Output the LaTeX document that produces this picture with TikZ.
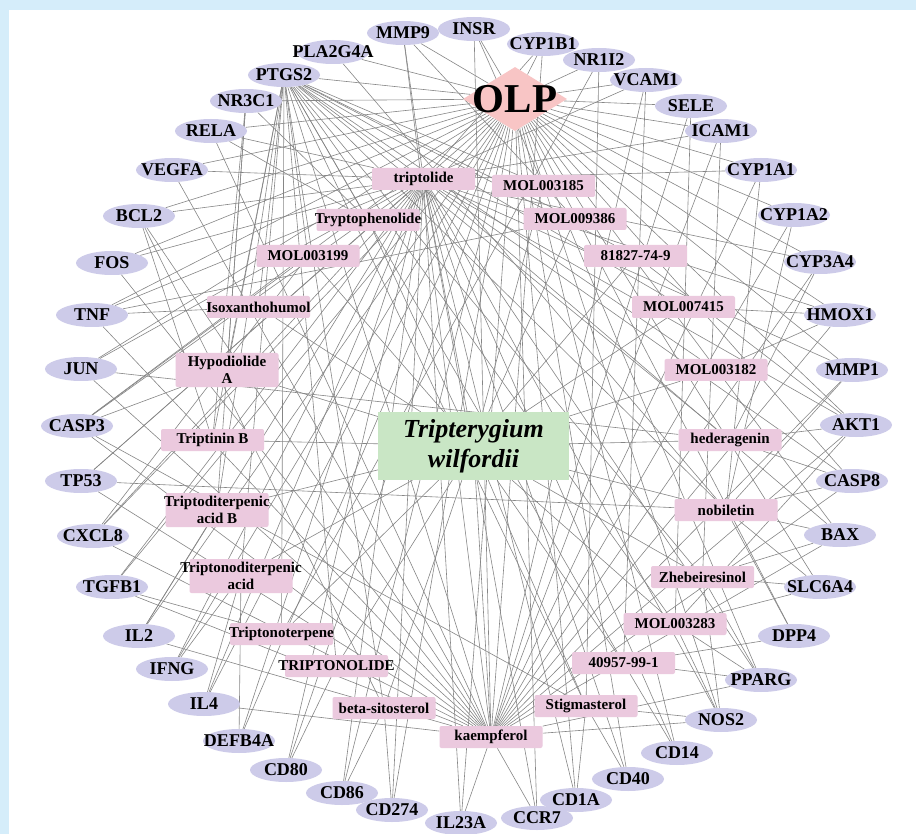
\documentclass[tikz,border=0pt]{standalone}
\usepackage{fontspec}
\setmainfont{Liberation Serif}
\usetikzlibrary{shapes.geometric}
\definecolor{framec}{HTML}{D5EDFA}
\definecolor{tgtc}{HTML}{CDCBE9}
\definecolor{cmpc}{HTML}{EBC9DE}
\definecolor{twc}{HTML}{C9E6C5}
\definecolor{olpc}{HTML}{F8C5C5}
\definecolor{edgec}{HTML}{868686}
\pgfdeclarelayer{back}
\pgfdeclarelayer{edges}
\pgfsetlayers{back,edges,main}
\tikzset{
 tgt/.style={ellipse, fill=tgtc, minimum width=72pt, minimum height=24pt, inner sep=0pt},
 tgtlab/.style={font=\bfseries\fontsize{18}{20}\selectfont, inner sep=0pt},
 cmp/.style={rectangle, rounded corners=2pt, fill=cmpc, minimum width=103pt, inner sep=0pt},
 cmplab/.style={font=\bfseries\fontsize{15}{17}\selectfont, inner sep=0pt, align=center},
 edge/.style={draw=edgec, line width=0.6pt},
}
\newcommand{\tg}[3]{\node[tgt] (#1) at (#2) {}; \node[tgtlab] (#1-l) at (#1) {#3};}
\newcommand{\cp}[4]{\node[cmp, minimum height=#4] (#1) at (#2) {}; \node[cmplab] (#1-l) at (#1) {#3};}
\begin{document}
\begin{tikzpicture}[x=1pt,y=-1pt]
\useasboundingbox (0,0) rectangle (916,834);
\begin{pgfonlayer}{back}
\fill[framec] (0,0) rectangle (916,834);
\fill[white] (9,10) rectangle (916,834);
\end{pgfonlayer}
% hub nodes
\node[diamond, fill=olpc, minimum width=104pt, minimum height=64pt, aspect=1.625, inner sep=0pt] (OLP) at (515,99) {};
\node[font=\bfseries\fontsize{41}{44}\selectfont, inner sep=0pt] (OLP-l) at (OLP) {OLP};
\node[rectangle, fill=twc, minimum width=191pt, minimum height=68pt, inner sep=0pt] (TW) at (473.5,446) {};
\node[font=\bfseries\itshape\fontsize{26}{30}\selectfont, align=center, inner sep=0pt] (TW-l) at (TW) {Tripterygium\\wilfordii};
% targets
\tg{MMP9}{403,33}{MMP9}
\tg{INSR}{474,29}{INSR}
\tg{CYP1B1}{543,44}{CYP1B1}
\tg{NR1I2}{599,60}{NR1I2}
\tg{VCAM1}{646,80}{VCAM1}
\tg{SELE}{691,106}{SELE}
\tg{ICAM1}{721,131}{ICAM1}
\tg{CYP1A1}{761,170}{CYP1A1}
\tg{CYP1A2}{794,215}{CYP1A2}
\tg{CYP3A4}{820,262}{CYP3A4}
\tg{HMOX1}{840,315}{HMOX1}
\tg{MMP1}{852,370}{MMP1}
\tg{AKT1}{856,425}{AKT1}
\tg{CASP8}{852,481}{CASP8}
\tg{BAX}{840,535}{BAX}
\tg{SLC6A4}{820,587}{SLC6A4}
\tg{DPP4}{794,636}{DPP4}
\tg{PPARG}{761,680}{PPARG}
\tg{NOS2}{721,720}{NOS2}
\tg{CD14}{677,753}{CD14}
\tg{CD40}{628,779}{CD40}
\tg{CD1A}{576,800}{CD1A}
\tg{CCR7}{537,818}{CCR7}
\tg{IL23A}{461,823}{IL23A}
\tg{CD274}{392,810}{CD274}
\tg{CD86}{342,793}{CD86}
\tg{CD80}{286,770}{CD80}
\tg{DEFB4A}{239,741}{DEFB4A}
\tg{IL4}{204,704}{IL4}
\tg{IFNG}{172,669}{IFNG}
\tg{IL2}{139,636}{IL2}
\tg{TGFB1}{112,587}{TGFB1}
\tg{CXCL8}{93,536}{CXCL8}
\tg{TP53}{81,481}{TP53}
\tg{CASP3}{77,426}{CASP3}
\tg{JUN}{81,369}{JUN}
\tg{TNF}{92,315}{TNF}
\tg{FOS}{112,263}{FOS}
\tg{BCL2}{139,216}{BCL2}
\tg{VEGFA}{172,170}{VEGFA}
\tg{RELA}{211,131}{RELA}
\tg{NR3C1}{246,101}{NR3C1}
\tg{PTGS2}{284,75}{PTGS2}
\tg{PLA2G4A}{333,52}{PLA2G4A}
% compounds
\cp{tpl}{423.5,179}{triptolide}{22pt}
\cp{m3185}{543.5,186}{MOL003185}{22pt}
\cp{tph}{368,220}{Tryptophenolide}{22pt}
\cp{m9386}{575,219}{MOL009386}{22pt}
\cp{m3199}{308,256}{MOL003199}{22pt}
\cp{c81827}{635.5,256}{81827-74-9}{22pt}
\cp{iso}{258.5,307}{Isoxanthohumol}{22pt}
\cp{m7415}{683.5,307}{MOL007415}{22pt}
\cp{hyp}{227,370}{Hypodiolide\\A}{34pt}
\cp{m3182}{716,370}{MOL003182}{22pt}
\cp{ttb}{212.5,440}{Triptinin B}{22pt}
\cp{hed}{730,440}{hederagenin}{22pt}
\cp{tdab}{217,510}{Triptoditerpenic\\acid B}{34pt}
\cp{nob}{726,510}{nobiletin}{22pt}
\cp{tnda}{241,576}{Triptonoditerpenic\\acid}{34pt}
\cp{zhe}{702.5,577}{Zhebeiresinol}{22pt}
\cp{tnt}{281.5,634}{Triptonoterpene}{22pt}
\cp{m3283}{675,624}{MOL003283}{22pt}
\cp{TNL}{336.5,666}{TRIPTONOLIDE}{22pt}
\cp{c40957}{623.5,663}{40957-99-1}{22pt}
\cp{bsit}{384,708}{beta-sitosterol}{22pt}
\cp{stig}{586,706}{Stigmasterol}{22pt}
\cp{kae}{491,737}{kaempferol}{22pt}
\begin{pgfonlayer}{edges}
\foreach \t in {MMP9,INSR,CYP1B1,NR1I2,VCAM1,SELE,ICAM1,CYP1A1,CYP1A2,CYP3A4,HMOX1,MMP1,AKT1,CASP8,BAX,SLC6A4,DPP4,PPARG,NOS2,CD14,CD40,CD1A,CCR7,IL23A,CD274,CD86,CD80,DEFB4A,IL4,IFNG,IL2,TGFB1,CXCL8,TP53,CASP3,JUN,TNF,FOS,BCL2,VEGFA,RELA,NR3C1,PTGS2,PLA2G4A}
  \draw[edge] (OLP) -- (\t);
\foreach \c in {tpl,m3185,tph,m9386,m3199,c81827,iso,m7415,hyp,m3182,ttb,hed,tdab,nob,tnda,zhe,tnt,m3283,TNL,c40957,bsit,stig,kae}
  \draw[edge] (TW) -- (\c);
\foreach \c in {tpl,m3185,tph,m9386,m3199,c81827,iso,m7415,hyp,m3182,ttb,hed,tdab,nob,tnda,zhe,tnt,m3283,TNL,c40957,bsit,stig,kae}
  \draw[edge] (PTGS2) -- (\c);
\foreach \t/\c in {INSR/kae, INSR/m3185, CYP1B1/kae, CYP1B1/tpl, NR1I2/stig, NR1I2/tnt,
  VCAM1/kae, VCAM1/c40957, SELE/kae, SELE/m3283, ICAM1/kae, ICAM1/zhe,
  CYP1A1/kae, CYP1A1/nob, CYP1A1/tpl, CYP1A2/kae, CYP1A2/nob, CYP3A4/kae, CYP3A4/tpl, CYP3A4/hed,
  HMOX1/kae, HMOX1/m3182, MMP1/kae, MMP1/nob, AKT1/kae, AKT1/hed, AKT1/m3283,
  CASP8/kae, CASP8/nob, CASP8/tpl, BAX/kae, BAX/nob, BAX/zhe, BAX/tpl,
  SLC6A4/m3283, SLC6A4/zhe, SLC6A4/nob, DPP4/c40957, DPP4/nob,
  PPARG/kae, PPARG/m3283, PPARG/zhe, PPARG/c40957, PPARG/tpl,
  NOS2/kae, NOS2/stig, NOS2/m3283, NOS2/zhe, CD14/tpl, CD14/c40957, CD40/tpl, CD40/stig,
  CD1A/tpl, CD1A/stig, CCR7/tpl, CCR7/kae, IL23A/kae, IL23A/tpl,
  CD274/tpl, CD274/bsit, CD86/tpl, CD86/bsit, CD80/tpl, CD80/TNL,
  DEFB4A/tpl, DEFB4A/tnda, IL4/tpl, IL4/tnda, IFNG/tpl, IFNG/tnda, IL2/tpl, IL2/tdab,
  TGFB1/tpl, TGFB1/tnt, CXCL8/tpl, CXCL8/m3199, TP53/kae, TP53/tpl,
  CASP3/kae, CASP3/tpl, CASP3/hyp, JUN/kae, JUN/tpl, TNF/kae, TNF/tpl, TNF/iso,
  FOS/kae, FOS/tpl, BCL2/kae, BCL2/tpl, BCL2/ttb, VEGFA/tpl, VEGFA/kae,
  RELA/tpl, RELA/kae, RELA/tph, NR3C1/hyp, NR3C1/ttb, NR3C1/tdab, NR3C1/tph,
  PLA2G4A/nob, MMP9/tpl, MMP9/kae, MMP9/m9386, AKT1/c81827, HMOX1/m7415, CASP3/m3199, TNF/m9386,
  TGFB1/kae, CXCL8/kae, IL4/kae, IL2/kae, AKT1/tpl, MMP1/tpl, HMOX1/tpl, NOS2/tpl,
  CASP8/hed, JUN/hed, TP53/nob, CASP3/stig, BCL2/bsit, ICAM1/tpl, VCAM1/tpl}
  \draw[edge] (\t) -- (\c);
\end{pgfonlayer}
\end{tikzpicture}
\end{document}
